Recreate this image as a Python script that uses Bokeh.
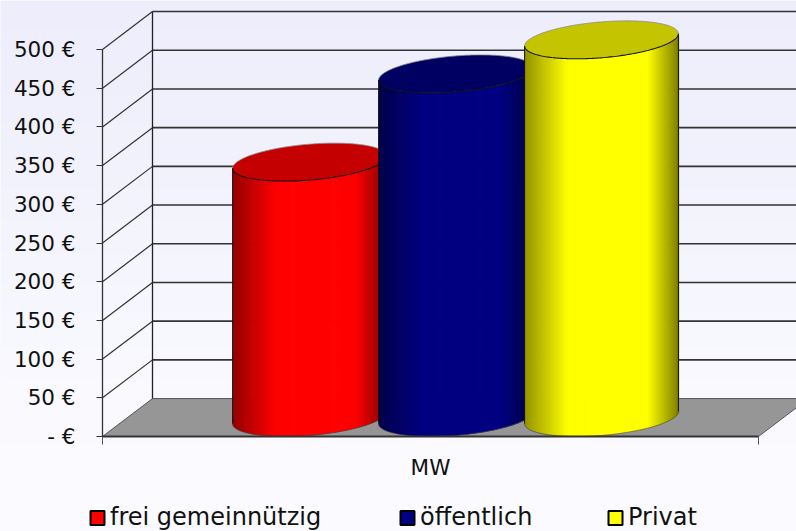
import numpy as np
from bokeh.embed import file_html
from bokeh.resources import INLINE
from bokeh.plotting import figure
from bokeh.models import FixedTicker, LinearAxis, Label, Range1d
from bokeh.core.properties import value as bvalue

categories = ["MW"]
series_names = ["frei gemeinnützig", "öffentlich", "Privat"]
series_values = [330, 444, 488]
series_colors = [(255, 0, 0), (0, 0, 128), (255, 255, 0)]
tick_values = [0, 50, 100, 150, 200, 250, 300, 350, 400, 450, 500]
tick_labels = ["- €", "50 €", "100 €", "150 €", "200 €", "250 €", "300 €", "350 €", "400 €", "450 €", "500 €"]

W, H = 796, 531
PX_X = 656.0      # px per category-axis unit
PX_Y = 0.774      # px per value unit
X0, Y0 = 102, 436   # position of the axis origin inside the figure
DX, DY = 50 / PX_X, 49.0    # 3D depth vector
UX = 72.7 / PX_X
STEP = 146 / PX_X
FONT = "DejaVu Sans"
FS = "21.5px"
LEG_FS = "24px"
LINE = "#333333"


def px(x):
    return (x - X0) / PX_X


def py(y):
    return (Y0 - y) / PX_Y


p = figure(width=W, height=H, output_backend="svg", toolbar_location=None,
           x_range=Range1d(px(0), px(W)), y_range=Range1d(py(H), py(0)),
           x_axis_type=None, y_axis_type=None, min_border=0, outline_line_color=None)
p.grid.visible = False
p.background_fill_color = "#f6f6fe"
p.border_fill_color = None

# page gradient
n = 90
edges = np.linspace(0, H, n + 1)
frac = np.clip((edges[:-1] + edges[1:]) / 2 / 440, 0, 1)
cols = ["#%02x%02x%02x" % (int(237 + 14 * f), int(237 + 14 * f), int(252 + 3 * f)) for f in frac]
p.quad(left=px(0), right=px(W), top=py(edges[:-1]), bottom=py(edges[1:] + 0.6), fill_color=cols, line_color=None)

# floor
p.patch([0, 1, 1 + DX, DX], [0, 0, DY, DY], fill_color="#969696", line_color="#555555", line_width=1)

# walls
tv = np.array(tick_values, float)
p.segment(x0=DX, x1=1 + DX, y0=tv[1:] + DY, y1=tv[1:] + DY, line_color=LINE, line_width=1.6)
p.segment(x0=0, x1=DX, y0=tv[1:], y1=tv[1:] + DY, line_color=LINE, line_width=1.2)
p.segment(x0=[DX], x1=[DX], y0=[DY], y1=[tv[-1] + DY], line_color="#222222", line_width=1.3)

# cylinders
W_E = np.hypot(UX, DX / 2)
phi = np.arctan2(DX / 2, UX)
VY = DY / 2
nstrip = 150
for i, (val, rgb) in enumerate(zip(series_values, series_colors)):
    c = 0.5 + (i - 1) * STEP + DX / 2
    edges_x = np.linspace(-W_E, W_E, nstrip + 1)
    mid = (edges_x[:-1] + edges_x[1:]) / 2
    tt = (mid + W_E) / (2 * W_E)
    low = VY * np.sin(phi - np.arccos(mid / W_E))
    shade = np.interp(tt, [0, 0.28, 0.8, 1], [0.58, 1, 1, 0.5])
    cc = ["#%02x%02x%02x" % tuple(int(k * s) for k in rgb) for s in shade]
    p.quad(left=c + edges_x[:-1], right=c + edges_x[1:] + 0.8 / PX_X,
           bottom=VY + low, top=val + VY + low, fill_color=cc, line_color=None)
    lower = np.linspace(-np.pi, 0, 120)
    upper = np.linspace(0, np.pi, 120)
    bx = W_E * np.cos(lower)
    by = VY * np.sin(lower + phi)
    p.line(c + bx, VY + by, line_color="#444444", line_width=0.7)
    p.segment(x0=[c - W_E, c + W_E], x1=[c - W_E, c + W_E],
              y0=[VY + VY * np.sin(phi - np.pi), VY + VY * np.sin(phi)],
              y1=[val + VY + VY * np.sin(phi - np.pi), val + VY + VY * np.sin(phi)],
              line_color="#111111", line_width=1)
    top_rgb = tuple(int(k * 0.77) for k in rgb)
    tau = np.linspace(0, 2 * np.pi, 240)
    p.patch(c + W_E * np.cos(tau), val + VY + VY * np.sin(tau + phi),
            fill_color="#%02x%02x%02x" % top_rgb, line_color=None)
    p.line(c + W_E * np.cos(upper), val + VY + VY * np.sin(upper + phi), line_color="#888888", line_width=0.8)
    p.line(c + bx, val + VY + by, line_color="#111111", line_width=1.1)

# axes
yaxis = LinearAxis(fixed_location=0, ticker=FixedTicker(ticks=tick_values),
                   major_label_overrides=dict(zip(tick_values, tick_labels)),
                   major_label_text_font=FONT, major_label_text_font_size=FS, major_label_text_color="#111111",
                   major_label_standoff=21, major_tick_out=6, major_tick_in=0, minor_tick_out=0, minor_tick_in=0,
                   major_tick_line_color=LINE, axis_line_color=LINE, axis_line_width=1.3, bounds=(0, 500))
p.add_layout(yaxis, "left")
xaxis = LinearAxis(fixed_location=0, ticker=FixedTicker(ticks=[0, 1]),
                   major_label_overrides={0: "", 1: ""},
                   major_tick_out=8, major_tick_in=0, minor_tick_out=0, minor_tick_in=0,
                   major_tick_line_color="#555555", axis_line_color=LINE, axis_line_width=2.2, bounds=(0, 1))
p.add_layout(xaxis, "below")

p.text(x=[0.5], y=[py(467)], text=categories, text_font=bvalue(FONT), text_font_size=FS,
       text_color="#111111", text_align="center", text_baseline="middle")

# legend
leg_x = [97, 407, 615]
for name, rgb, lx in zip(series_names, series_colors, leg_x):
    p.scatter(x=[px(lx)], y=[py(517.5)], marker="square", size=14, fill_color="#%02x%02x%02x" % rgb,
              line_color="#000000", line_width=2)
    p.add_layout(Label(x=lx + 12.5, y=H - 516, x_units="screen", y_units="screen", text=name,
                       text_font=FONT, text_font_size=LEG_FS, text_color="#111111",
                       text_baseline="middle", text_align="left"))

open("out.html", "w").write(file_html(p, INLINE))
